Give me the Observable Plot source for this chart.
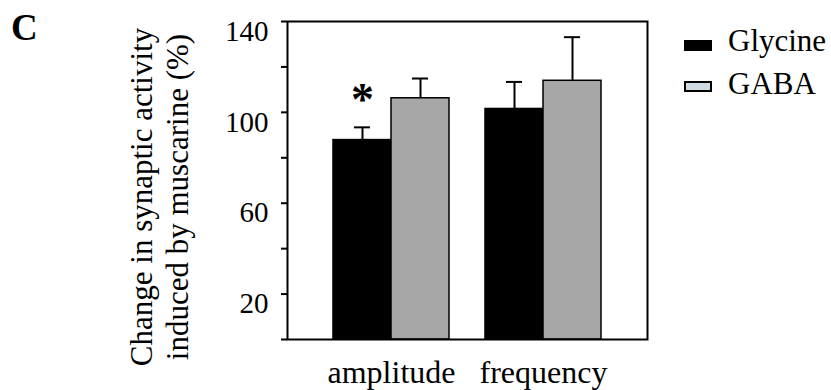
<!DOCTYPE html>
<html>
<head>
<meta charset="utf-8">
<script src="https://cdn.jsdelivr.net/npm/d3@7"></script>
<script src="https://cdn.jsdelivr.net/npm/@observablehq/plot@0.6"></script>
<style>
  html, body { margin: 0; padding: 0; background: #fff; }
  #chart { width: 831px; height: 390px; }
</style>
</head>
<body>
<div id="chart"></div>
<script>
// ---- data ----
const categories = ["amplitude", "frequency"];
const series = ["Glycine", "GABA"];
const glycineMean = [87.8, 101.5];
const gabaMean = [106.2, 113.9];
const glycineSem = [5.6, 11.9];
const gabaSem = [8.7, 19.2];
const yTicks = [0, 20, 40, 60, 80, 100, 120, 140];
const yTickLabels = ["", "20", "", "60", "", "100", "", "140"];
const significance = [{category: "amplitude", series: "Glycine", y: 105.5, mark: "*"}];
const yLabelLines = ["Change in synaptic activity", "induced by muscarine (%)"];
const panelLetter = "C";

const colors = {Glycine: "#000000", GABA: "#a7a7a7"};
const legendSwatch = {Glycine: "#000000", GABA: "#cfdbe2"};

const rows = [];
categories.forEach((c, i) => {
  rows.push({category: c, series: "Glycine", value: glycineMean[i], sem: glycineSem[i]});
  rows.push({category: c, series: "GABA", value: gabaMean[i], sem: gabaSem[i]});
});
rows.forEach(d => d.top = d.value + d.sem);

const FONT = "'Liberation Serif', 'Times New Roman', serif";
const W = 831, H = 390;
const margins = {marginLeft: 287, marginRight: 184, marginTop: 21, marginBottom: 51};
const xScale = {type: "band", domain: categories, paddingInner: 0.236, paddingOuter: 0.30};
const yScale = {domain: [0, 140]};

function build(bw) {
  const half = bw / 2, q = bw / 4, capHalf = 8;
  const marks = [];
  series.forEach((s, si) => {
    const sub = rows.filter(d => d.series === s);
    const left = si === 0;
    marks.push(Plot.barY(sub, {
      x: "category", y: "value", fill: colors[s], stroke: "#000", strokeWidth: 1.5,
      insetLeft: left ? 0 : half, insetRight: left ? half : 0
    }));
    marks.push(Plot.ruleX(sub, {x: "category", y1: "value", y2: "top", dx: left ? -q : q, stroke: "#000", strokeWidth: 2}));
    marks.push(Plot.tickY(sub, {
      x: "category", y: "top", stroke: "#000", strokeWidth: 2,
      insetLeft: left ? q - capHalf : half + q - capHalf,
      insetRight: left ? half + q - capHalf : q - capHalf
    }));
  });
  marks.push(Plot.text(significance, {
    x: "category", y: "y", text: "mark", dx: -q, fontSize: 46, fontWeight: "bold",
    fontFamily: FONT, fill: "#000"
  }));
  return Plot.plot({
    width: W, height: H, ...margins,
    style: {fontFamily: FONT, background: "#fff", color: "#000"},
    x: {...xScale, axis: null},
    y: {...yScale, axis: null},
    marks: [
      ...marks,
      Plot.frame({stroke: "#000", strokeWidth: 2}),
      Plot.axisY({ticks: yTicks, tickSize: 6, strokeWidth: 2, text: null, label: null}),
      Plot.axisY({ticks: yTicks, tickFormat: d => yTickLabels[yTicks.indexOf(d)], tickSize: 0, tickPadding: 19, fontSize: 29, dy: 10, label: null}),
      Plot.axisX({tickSize: 0, tickPadding: 21, fontSize: 32, label: null})
    ]
  });
}

let plot = build(100);
const bw = plot.scale("x").bandwidth;
plot = build(bw);
document.getElementById("chart").appendChild(plot);

// ---- annotations: panel letter, y label, legend ----
const svg = d3.select(plot);
svg.append("text").attr("x", 11).attr("y", 40).attr("text-anchor", "start").attr("font-family", FONT)
  .attr("font-size", 37).attr("font-weight", "bold").attr("fill", "#000").text(panelLetter);

const yl = svg.append("g").attr("font-family", FONT).attr("font-size", 31).attr("fill", "#000");
const baseX = [152, 188];
yLabelLines.forEach((t, i) => {
  yl.append("text").attr("text-anchor", "middle")
    .attr("transform", `translate(${baseX[i]},197) rotate(-90)`).text(t);
});

const lg = svg.append("g").attr("font-family", FONT).attr("font-size", 31).attr("fill", "#000").attr("text-anchor", "start");
series.forEach((s, i) => {
  const y0 = [40, 82][i];
  lg.append("rect").attr("x", i === 0 ? 684 : 685).attr("y", y0).attr("width", i === 0 ? 28 : 26).attr("height", i === 0 ? 11 : 9)
    .attr("fill", legendSwatch[s]).attr("stroke", i === 0 ? "none" : "#000").attr("stroke-width", 2);
  lg.append("text").attr("x", 728).attr("y", y0 + 11 + (i === 0 ? 0 : 1)).attr("text-anchor", "start").text(s);
});
</script>
</body>
</html>
